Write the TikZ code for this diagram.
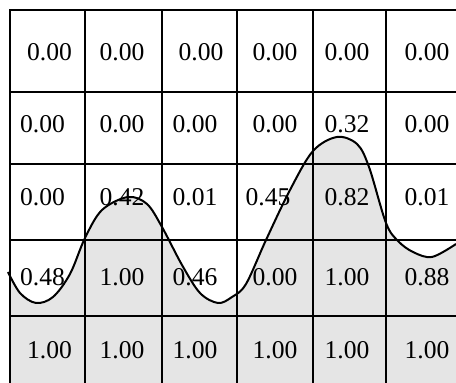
\documentclass[tikz,border=0pt]{standalone}
\usepackage{fontspec}
\setmainfont{Liberation Serif}
\definecolor{fillgray}{HTML}{E5E5E5}
\tikzset{
	cell/.style={inner sep=0pt, font=\fontsize{12.8}{15}\selectfont},
	grid/.style={line width=1pt},
	wave/.style={line width=1pt}
}

\begin{document}
\begin{tikzpicture}[x=0.5pt, y=-0.5pt]
	\useasboundingbox (0,0) rectangle (456,383);
	% shaded region under the curve
	\begin{scope}
		\clip (10,0) rectangle (456,383);
		\fill[fillgray] plot[smooth, tension=0.55] coordinates
			{(8,272) (20,293) (36,303) (53,297) (70,274) (85,238) (102,210) (128,197)
			 (147,204) (162,227) (182,265) (200,293) (218,303) (232,297) (246,284)
			 (266,240) (290,190) (313,151) (337,137) (357,144) (369,167) (386,223)
			 (398,241) (413,252) (432,257) (456,244)}
			-- (456,383) -- (10,383) -- cycle;
	\end{scope}
	% grid
	\draw[grid] (10,383) -- (10,10) -- (456,10);
	\foreach \x in {85,162,237,313,386}
		\draw[grid] (\x,10) -- (\x,383);
	\foreach \y in {92,164,240,316}
		\draw[grid] (10,\y) -- (456,\y);
	% cell values
	\foreach \yy/\row [count=\r] in {
		52/{49.5/0.00,122/0.00,201/0.00,275/0.00,347/0.00,427/0.00},
		124/{42.5/0.00,122/0.00,195/0.00,275/0.00,347/0.32,427/0.00},
		197/{42.5/0.00,122/0.42,195/0.01,268/0.45,347/0.82,427/0.01},
		277/{42.5/0.48,122/1.00,195/0.46,275/0.00,347/1.00,427/0.88},
		350/{49.5/1.00,122/1.00,195/1.00,275/1.00,347/1.00,427/1.00}} {
		\foreach \xx/\v [count=\c] in \row
			\node[cell] (v\r\c) at (\xx,\yy) {\v};
	}
	% the curve
	\draw[wave] plot[smooth, tension=0.55] coordinates
		{(8,272) (20,293) (36,303) (53,297) (70,274) (85,238) (102,210) (128,197)
		 (147,204) (162,227) (182,265) (200,293) (218,303) (232,297) (246,284)
		 (266,240) (290,190) (313,151) (337,137) (357,144) (369,167) (386,223)
		 (398,241) (413,252) (432,257) (456,244)};
\end{tikzpicture}
\end{document}
